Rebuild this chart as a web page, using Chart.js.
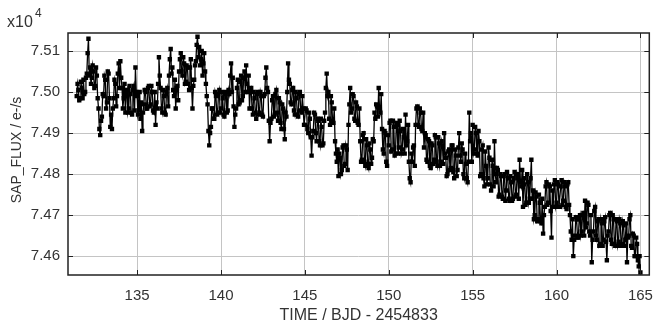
<!DOCTYPE html>
<html>
<head>
<meta charset="utf-8">
<script src="https://cdn.jsdelivr.net/npm/chart.js@4"></script>
<style>
  html, body { margin: 0; padding: 0; background: #fff; }
  #wrap { width: 665px; height: 325px; }
</style>
</head>
<body>
<div id="wrap"><canvas id="flux-chart" width="665" height="325"></canvas></div>
<script>
// days, BJD - 2454833 (samples on the tenth of a day)
const time = [
  131.4, 131.5, 131.6, 131.7, 131.8, 131.9,
  132.0, 132.1, 132.2, 132.3, 132.4, 132.5, 132.6, 132.7, 132.8, 132.9,
  133.0, 133.1, 133.2, 133.3, 133.4, 133.5, 133.6, 133.7, 133.8, 133.9,
  134.0, 134.1, 134.2, 134.3, 134.4, 134.5, 134.6, 134.7, 134.8, 134.9,
  135.0, 135.1, 135.2, 135.3, 135.4, 135.5, 135.6, 135.7, 135.8, 135.9,
  136.0, 136.1, 136.2, 136.3, 136.4, 136.5, 136.6, 136.7, 136.8, 136.9,
  137.0, 137.1, 137.2, 137.3, 137.4, 137.5, 137.6, 137.7, 137.8, 137.9,
  138.0, 138.1, 138.2, 138.3, 138.4, 138.5, 138.6, 138.7, 138.8, 138.9,
  139.0, 139.1, 139.2, 139.3, 139.4, 139.5, 139.6, 139.7, 139.8, 139.9,
  140.0, 140.1, 140.2, 140.3, 140.4, 140.5, 140.6, 140.7, 140.8, 140.9,
  141.0, 141.1, 141.2, 141.3, 141.4, 141.5, 141.6, 141.7, 141.8, 141.9,
  142.0, 142.1, 142.2, 142.3, 142.4, 142.5, 142.6, 142.7, 142.8, 142.9,
  143.0, 143.1, 143.2, 143.3, 143.4, 143.5, 143.6, 143.7, 143.8, 143.9,
  144.0, 144.1, 144.2, 144.3, 144.4, 144.5, 144.6, 144.7, 144.8, 144.9,
  145.0, 145.1, 145.2, 145.3, 145.4, 145.5, 145.6, 145.7, 145.8, 145.9,
  146.0, 146.1, 146.2, 146.3, 146.4, 146.5, 146.6, 146.7, 146.8, 146.9,
  147.0, 147.1, 147.2, 147.3, 147.4, 147.5, 147.6, 147.7, 147.8, 147.9,
  148.0, 148.1, 148.2, 148.3, 148.4, 148.5, 148.6, 148.7, 148.8, 148.9,
  149.0, 149.1, 149.2, 149.3, 149.4, 149.5, 149.6, 149.7, 149.8, 149.9,
  150.0, 150.1, 150.2, 150.3, 150.4, 150.5, 150.6, 150.7, 150.8, 150.9,
  151.0, 151.1, 151.2, 151.3, 151.4, 151.5, 151.6, 151.7, 151.8, 151.9,
  152.0, 152.1, 152.2, 152.3, 152.4, 152.5, 152.6, 152.7, 152.8, 152.9,
  153.0, 153.1, 153.2, 153.3, 153.4, 153.5, 153.6, 153.7, 153.8, 153.9,
  154.0, 154.1, 154.2, 154.3, 154.4, 154.5, 154.6, 154.7, 154.8, 154.9,
  155.0, 155.1, 155.2, 155.3, 155.4, 155.5, 155.6, 155.7, 155.8, 155.9,
  156.0, 156.1, 156.2, 156.3, 156.4, 156.5, 156.6, 156.7, 156.8, 156.9,
  157.0, 157.1, 157.2, 157.3, 157.4, 157.5, 157.6, 157.7, 157.8, 157.9,
  158.0, 158.1, 158.2, 158.3, 158.4, 158.5, 158.6, 158.7, 158.8, 158.9,
  159.0, 159.1, 159.2, 159.3, 159.4, 159.5, 159.6, 159.7, 159.8, 159.9,
  160.0, 160.1, 160.2, 160.3, 160.4, 160.5, 160.6, 160.7, 160.8, 160.9,
  161.0, 161.1, 161.2, 161.3, 161.4, 161.5, 161.6, 161.7, 161.8, 161.9,
  162.0, 162.1, 162.2, 162.3, 162.4, 162.5, 162.6, 162.7, 162.8, 162.9,
  163.0, 163.1, 163.2, 163.3, 163.4, 163.5, 163.6, 163.7, 163.8, 163.9,
  164.0, 164.1, 164.2, 164.3, 164.4, 164.5, 164.6, 164.7, 164.8, 164.9,
  165.0
];

// SAP flux, e-/s, at the times above
const flux = [
  74990, 75005, 74985, 75010, 75030, 75000,
  75045, 75130, 75060, 75035, 75050, 75015, 75040, 74960, 74895, 74940,
  74990, 75030, 74975, 75045, 74915, 74910, 74985, 75020, 74990, 75070,
  75075, 75010, 74985, 74950, 75005, 74960, 74995, 74945, 75015, 75060,
  74990, 74955, 74935, 74905, 74970, 75000, 74960, 75015, 74970, 75000,
  74950, 74920, 74960, 75085, 75010, 74950, 74990, 74945, 75010, 75040,
  75105, 75060, 74990, 74960, 75015, 75050, 75095, 75040, 75070, 75025,
  75060, 75005, 75080, 74960, 75030, 75075, 75135, 75110, 75080, 75040,
  75095, 75020, 74970, 74870, 74915, 74960, 74935, 74990, 74950, 75005,
  74960, 74985, 74940, 75000, 74955, 74995, 75070, 75035, 74915, 74960,
  75030, 74975, 75040, 74990, 75050, 75065, 75000, 74960, 75010, 74945,
  74985, 74935, 75000, 74950, 74990, 74940, 74995, 75060, 75000, 74880,
  74935, 74990, 74945, 75005, 74930, 74975, 74910, 74960, 74885, 74940,
  75070, 75020, 74970, 75010, 74945, 74985, 74940, 75000, 74950, 74960,
  74920, 74955, 74900, 74935, 74845, 74905, 74945, 74880, 74930, 74870,
  74915, 74875, 74950, 75045, 75000, 74920, 74975, 74925, 74880, 74830,
  74795, 74840, 74810, 74870, 74825, 74860, 74920, 75010, 74960, 74990,
  74930, 74965, 74920, 74880, 74835, 74900, 74820, 74870, 74815, 74860,
  74840, 74880, 74935, 74965, 75010, 74950, 74910, 74850, 74900, 74820,
  74870, 74930, 74860, 74915, 74850, 74920, 74865, 74905, 74860, 74890,
  74945, 74880, 74830, 74780, 74830, 74870, 74920, 74965, 74915, 74950,
  74905, 74865, 74895, 74830, 74880, 74815, 74870, 74835, 74890, 74820,
  74875, 74830, 74870, 74900, 74840, 74800, 74860, 74815, 74870, 74790,
  74845, 74810, 74900, 74830, 74860, 74790, 74825, 74780, 74950, 74900,
  74920, 74860, 74900, 74845, 74880, 74800, 74870, 74770, 74820, 74790,
  74840, 74760, 74820, 74880, 74780, 74810, 74750, 74795, 74740, 74800,
  74760, 74790, 74735, 74780, 74740, 74805, 74750, 74790, 74835, 74770,
  74720, 74790, 74730, 74780, 74740, 74835, 74760, 74700, 74745, 74690,
  74730, 74680, 74655, 74720, 74780, 74730, 74770, 74645, 74720, 74785,
  74730, 74775, 74720, 74785, 74735, 74770, 74715, 74780, 74700, 74640,
  74600, 74650, 74690, 74645, 74700, 74660, 74705, 74735, 74680, 74725,
  74650, 74585, 74660, 74720, 74640, 74690, 74630, 74680, 74640, 74695,
  74590, 74660, 74705, 74630, 74690, 74625, 74685, 74635, 74680, 74630,
  74675, 74640, 74585, 74650, 74700, 74620, 74650, 74600, 74630, 74575,
  74560
];

// in-between cadences
const timeHalf = [
  131.45, 131.55, 131.65, 131.75, 131.85, 131.95,
  132.05, 132.15, 132.25, 132.35, 132.45, 132.55, 132.65, 132.75, 132.85, 132.95,
  133.05, 133.15, 133.25, 133.35, 133.45, 133.55, 133.65, 133.75, 133.85, 133.95,
  134.05, 134.15, 134.25, 134.35, 134.45, 134.55, 134.65, 134.75, 134.85, 134.95,
  135.05, 135.15, 135.25, 135.35, 135.45, 135.55, 135.65, 135.75, 135.85, 135.95,
  136.05, 136.15, 136.25, 136.35, 136.45, 136.55, 136.65, 136.75, 136.85, 136.95,
  137.05, 137.15, 137.25, 137.35, 137.45, 137.55, 137.65, 137.75, 137.85, 137.95,
  138.05, 138.15, 138.25, 138.35, 138.45, 138.55, 138.65, 138.75, 138.85, 138.95,
  139.05, 139.15, 139.25, 139.35, 139.45, 139.55, 139.65, 139.75, 139.85, 139.95,
  140.05, 140.15, 140.25, 140.35, 140.45, 140.55, 140.65, 140.75, 140.85, 140.95,
  141.05, 141.15, 141.25, 141.35, 141.45, 141.55, 141.65, 141.75, 141.85, 141.95,
  142.05, 142.15, 142.25, 142.35, 142.45, 142.55, 142.65, 142.75, 142.85, 142.95,
  143.05, 143.15, 143.25, 143.35, 143.45, 143.55, 143.65, 143.75, 143.85, 143.95,
  144.05, 144.15, 144.25, 144.35, 144.45, 144.55, 144.65, 144.75, 144.85, 144.95,
  145.05, 145.15, 145.25, 145.35, 145.45, 145.55, 145.65, 145.75, 145.85, 145.95,
  146.05, 146.15, 146.25, 146.35, 146.45, 146.55, 146.65, 146.75, 146.85, 146.95,
  147.05, 147.15, 147.25, 147.35, 147.45, 147.55, 147.65, 147.75, 147.85, 147.95,
  148.05, 148.15, 148.25, 148.35, 148.45, 148.55, 148.65, 148.75, 148.85, 148.95,
  149.05, 149.15, 149.25, 149.35, 149.45, 149.55, 149.65, 149.75, 149.85, 149.95,
  150.05, 150.15, 150.25, 150.35, 150.45, 150.55, 150.65, 150.75, 150.85, 150.95,
  151.05, 151.15, 151.25, 151.35, 151.45, 151.55, 151.65, 151.75, 151.85, 151.95,
  152.05, 152.15, 152.25, 152.35, 152.45, 152.55, 152.65, 152.75, 152.85, 152.95,
  153.05, 153.15, 153.25, 153.35, 153.45, 153.55, 153.65, 153.75, 153.85, 153.95,
  154.05, 154.15, 154.25, 154.35, 154.45, 154.55, 154.65, 154.75, 154.85, 154.95,
  155.05, 155.15, 155.25, 155.35, 155.45, 155.55, 155.65, 155.75, 155.85, 155.95,
  156.05, 156.15, 156.25, 156.35, 156.45, 156.55, 156.65, 156.75, 156.85, 156.95,
  157.05, 157.15, 157.25, 157.35, 157.45, 157.55, 157.65, 157.75, 157.85, 157.95,
  158.05, 158.15, 158.25, 158.35, 158.45, 158.55, 158.65, 158.75, 158.85, 158.95,
  159.05, 159.15, 159.25, 159.35, 159.45, 159.55, 159.65, 159.75, 159.85, 159.95,
  160.05, 160.15, 160.25, 160.35, 160.45, 160.55, 160.65, 160.75, 160.85, 160.95,
  161.05, 161.15, 161.25, 161.35, 161.45, 161.55, 161.65, 161.75, 161.85, 161.95,
  162.05, 162.15, 162.25, 162.35, 162.45, 162.55, 162.65, 162.75, 162.85, 162.95,
  163.05, 163.15, 163.25, 163.35, 163.45, 163.55, 163.65, 163.75, 163.85, 163.95,
  164.05, 164.15, 164.25, 164.35, 164.45, 164.55, 164.65, 164.75, 164.85, 164.95
];

const fluxHalf = [
  75020, 74980, 75025, 74985, 74995, 75035,
  75095, 75040, 75020, 75065, 75010, 75060, 74985, 74910, 74930, 74995,
  75040, 74960, 75050, 74985, 74945, 74960, 75030, 74965, 75045, 75010,
  75035, 74960, 75020, 74995, 74950, 75015, 74950, 75005, 74955, 75000,
  74945, 75000, 74975, 74950, 75005, 74960, 75010, 74965, 75015, 74955,
  75000, 74975, 75020, 75040, 74960, 75005, 74950, 75000, 74965, 75080,
  75045, 75005, 75030, 75010, 74980, 75080, 75050, 75085, 75020, 75065,
  75020, 75060, 75010, 75015, 75065, 75115, 75085, 75065, 75100, 75070,
  75050, 74990, 74905, 74900, 74960, 74935, 75000, 74945, 74995, 74950,
  75000, 74945, 74995, 74950, 75005, 75040, 75000, 74965, 74945, 75010,
  74970, 75025, 74980, 75035, 75000, 75020, 75040, 75005, 74960, 75000,
  74950, 74995, 74945, 75000, 74945, 74990, 75035, 75010, 74930, 74925,
  74980, 74940, 74995, 74950, 74985, 74925, 74970, 74910, 74950, 75000,
  75030, 74975, 75005, 74955, 75000, 74945, 74995, 74955, 74990, 74920,
  74960, 74910, 74950, 74890, 74890, 74950, 74900, 74935, 74880, 74935,
  74870, 74930, 75010, 74990, 74935, 74990, 74930, 74960, 74850, 74860,
  74850, 74800, 74865, 74820, 74870, 74810, 74970, 74950, 74995, 74935,
  74975, 74925, 74960, 74830, 74895, 74830, 74885, 74825, 74875, 74825,
  74885, 74950, 74970, 74940, 74960, 74995, 74860, 74905, 74830, 74895,
  74925, 74855, 74930, 74845, 74925, 74850, 74930, 74850, 74910, 74850,
  74870, 74920, 74790, 74850, 74865, 74820, 74960, 74920, 74960, 74910,
  74950, 74900, 74835, 74885, 74820, 74875, 74825, 74895, 74830, 74890,
  74820, 74880, 74825, 74850, 74795, 74855, 74810, 74870, 74805, 74860,
  74795, 74865, 74845, 74875, 74800, 74850, 74790, 74830, 74880, 74830,
  74850, 74915, 74850, 74905, 74795, 74860, 74790, 74855, 74775, 74865,
  74775, 74835, 74770, 74800, 74815, 74745, 74800, 74745, 74795, 74735,
  74805, 74740, 74795, 74735, 74790, 74745, 74800, 74740, 74780, 74810,
  74775, 74725, 74800, 74730, 74790, 74740, 74690, 74755, 74685, 74750,
  74685, 74740, 74700, 74770, 74725, 74775, 74710, 74760, 74775, 74720,
  74780, 74720, 74770, 74725, 74780, 74720, 74775, 74725, 74660, 74690,
  74640, 74695, 74645, 74690, 74650, 74700, 74650, 74670, 74730, 74660,
  74700, 74640, 74710, 74650, 74685, 74625, 74690, 74625, 74685, 74635,
  74650, 74700, 74640, 74700, 74630, 74690, 74625, 74690, 74625, 74685,
  74625, 74680, 74645, 74690, 74625, 74655, 74600, 74645, 74590, 74600
];

const xTicks = [135, 140, 145, 150, 155, 160, 165];
const yTicks = [74600, 74700, 74800, 74900, 75000, 75100];

const FONT = "'Liberation Sans', Arial, sans-serif";

// both sample sets merged into one time-ordered series
const points = time.map((t, i) => ({ x: t, y: flux[i] }))
  .concat(timeHalf.map((t, i) => ({ x: t, y: fluxHalf[i] })))
  .sort((a, b) => a.x - b.x);

// box, inward tick marks and the axis captions
const frame = {
  id: 'frame',
  afterDraw(chart) {
    const { ctx, chartArea: a, scales } = chart;
    ctx.save();
    ctx.strokeStyle = '#222';
    ctx.lineWidth = 1;
    ctx.beginPath();
    xTicks.forEach(v => {
      const x = Math.round(scales.x.getPixelForValue(v)) + 0.5;
      ctx.moveTo(x, a.bottom); ctx.lineTo(x, a.bottom - 5);
      ctx.moveTo(x, a.top); ctx.lineTo(x, a.top + 5);
    });
    yTicks.forEach(v => {
      const y = Math.round(scales.y.getPixelForValue(v)) + 0.5;
      ctx.moveTo(a.left, y); ctx.lineTo(a.left + 5, y);
      ctx.moveTo(a.right, y); ctx.lineTo(a.right - 5, y);
    });
    ctx.stroke();
    ctx.lineWidth = 1.5;
    ctx.strokeRect(a.left, a.top, a.right - a.left, a.bottom - a.top);

    ctx.fillStyle = '#333';
    ctx.textAlign = 'center';
    ctx.textBaseline = 'middle';
    ctx.font = '16px ' + FONT;
    ctx.fillText('TIME / BJD - 2454833', (a.left + a.right) / 2, 316);

    ctx.save();
    ctx.font = '14px ' + FONT;
    ctx.translate(17, 150);
    ctx.rotate(-Math.PI / 2);
    ctx.fillText('SAP_FLUX / e-/s', 0, 0);
    ctx.restore();

    ctx.textAlign = 'left';
    ctx.textBaseline = 'alphabetic';
    ctx.font = '16px ' + FONT;
    ctx.fillText('x10', 7, 27);
    ctx.font = '12px ' + FONT;
    ctx.fillText('4', 35, 17);
    ctx.restore();
  }
};

new Chart(document.getElementById('flux-chart'), {
  type: 'line',
  data: {
    datasets: [{
      data: points,
      borderColor: '#000',
      borderWidth: 1.3,
      pointStyle: 'rect',
      pointRadius: 3.1,
      pointBorderWidth: 0,
      pointBackgroundColor: '#000',
      tension: 0
    }]
  },
  options: {
    responsive: false,
    animation: false,
    layout: { padding: { top: 33, right: 5, left: 0, bottom: 0 } },
    plugins: { legend: { display: false }, tooltip: { enabled: false } },
    scales: {
      x: {
        type: 'linear',
        min: 130.88,
        max: 165.53,
        afterBuildTicks: s => { s.ticks = xTicks.map(v => ({ value: v })); },
        afterFit: s => { s.height = 50; },
        grid: { color: '#c4c4c4', drawTicks: false },
        border: { display: false },
        ticks: { color: '#333', font: { family: FONT, size: 15 }, padding: 12, maxRotation: 0 }
      },
      y: {
        min: 74554,
        max: 75144,
        afterBuildTicks: s => { s.ticks = yTicks.map(v => ({ value: v })); },
        afterFit: s => { s.width = 68; },
        grid: { color: '#c4c4c4', drawTicks: false },
        border: { display: false },
        ticks: {
          color: '#333',
          font: { family: FONT, size: 15 },
          padding: 8,
          callback: v => (v / 10000).toFixed(2)
        }
      }
    }
  },
  plugins: [frame]
});
</script>
</body>
</html>
